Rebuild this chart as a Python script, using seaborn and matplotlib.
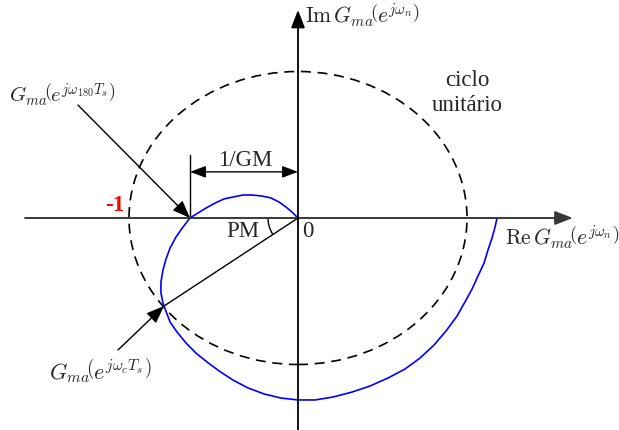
import numpy as np
import pandas as pd
import seaborn as sns
import matplotlib
matplotlib.use("Agg")
import matplotlib.pyplot as plt
from matplotlib.patches import Circle, Arc

# Nyquist locus of G_ma(e^{jw}) (real, imaginary parts), in units of the unit circle
re_part = [0.000, -0.036, -0.071, -0.112, -0.160, -0.213, -0.272, -0.325, -0.385, -0.438,
           -0.491, -0.544, -0.592, -0.639, -0.680, -0.722, -0.757, -0.781, -0.799, -0.811,
           -0.811, -0.799, -0.793, -0.757, -0.716, -0.663, -0.604, -0.538, -0.467, -0.385,
           -0.296, -0.201, -0.101, 0.000, 0.101, 0.207, 0.320, 0.426, 0.533, 0.633,
           0.722, 0.805, 0.876, 0.941, 0.988, 1.030, 1.065, 1.101, 1.124, 1.148,
           1.166, 1.178]
im_part = [0.000, 0.041, 0.075, 0.109, 0.137, 0.150, 0.157, 0.157, 0.143, 0.130,
           0.102, 0.068, 0.034, 0.000, -0.061, -0.130, -0.205, -0.280, -0.355, -0.437,
           -0.512, -0.580, -0.601, -0.710, -0.778, -0.853, -0.922, -0.983, -1.044, -1.106,
           -1.160, -1.201, -1.229, -1.242, -1.242, -1.222, -1.188, -1.147, -1.092, -1.031,
           -0.956, -0.867, -0.771, -0.669, -0.573, -0.485, -0.396, -0.307, -0.219, -0.137,
           -0.061, 0.000]

gm_cross = (-0.639, 0.0)      # crossing of the negative real axis (1/GM)
pm_cross = (-0.793, -0.601)   # crossing of the unit circle (phase margin)

sns.set_theme(style="white")
plt.rcParams["mathtext.fontset"] = "cm"
plt.rcParams["font.family"] = ["Liberation Serif", "DejaVu Serif"]

fig = plt.figure(figsize=(6.19, 4.30), dpi=100)
ax = fig.add_axes([0, 0, 1, 1])
ax.set_xlim(-298 / 169, 321 / 169)
ax.set_ylim(-212 / 146.5, 218 / 146.5)
ax.axis("off")

df = pd.DataFrame({"re": re_part, "im": im_part})
sns.lineplot(data=df, x="re", y="im", sort=False, estimator=None,
             color="#0000ff", lw=1.2, ax=ax)

# unit circle
ax.add_patch(Circle((0, 0), 1.0, fill=False, ls=(0, (6, 4)), lw=1.2, color="black"))

# coordinate axes with arrow heads
axis_col = "#383838"
ax.annotate("", xy=(1.626, 0), xytext=(-1.615, 0),
            arrowprops=dict(arrowstyle="-|>,head_length=0.9,head_width=0.35",
                            color=axis_col, lw=1.4, shrinkA=0, shrinkB=0))
ax.annotate("", xy=(0, 1.42), xytext=(0, -1.46),
            arrowprops=dict(arrowstyle="-|>,head_length=0.9,head_width=0.35",
                            color="black", lw=1.3, shrinkA=0, shrinkB=0))
ax.text(0.04, 1.385, r"$\mathrm{Im}\,G_{ma}\!\left(e^{j\omega_n}\right)$",
        fontsize=15.5, ha="left", va="center")
ax.text(1.225, -0.135, r"$\mathrm{Re}\,G_{ma}\!\left(e^{j\omega_n}\right)$",
        fontsize=15.5, ha="left", va="center")

# phase margin line and angle
ax.plot([0, pm_cross[0]], [0, pm_cross[1]], color="black", lw=1.0)
pm_deg = np.degrees(np.arctan2(-pm_cross[1], -pm_cross[0]))
ax.add_patch(Arc((0, 0), 2 * 30 / 169, 2 * 30 / 146.5, theta1=180,
                 theta2=180 + pm_deg, color="black", lw=1.0))
ax.text(-0.325, -0.095, "PM", fontsize=16.5, ha="center", va="center")
ax.text(0.06, -0.09, "0", fontsize=16.5, ha="center", va="center")
ax.text(-1.086, 0.082, "-1", fontsize=16.5, ha="center", va="center",
        color="red", weight="bold")

# 1/GM dimension
ax.plot([gm_cross[0], gm_cross[0]], [gm_cross[1], 0.43], color="black", lw=1.0)
ax.annotate("", xy=(0, 0.315), xytext=(gm_cross[0], 0.315),
            arrowprops=dict(arrowstyle="<|-|>,head_length=0.8,head_width=0.3",
                            color="black", lw=1.0, shrinkA=0, shrinkB=0))
ax.text(-0.314, 0.39, "1/GM", fontsize=16.5, ha="center", va="center")

# pointers to the characteristic points
ax.annotate("", xy=gm_cross, xytext=(-1.302, 0.771),
            arrowprops=dict(arrowstyle="-|>,head_length=0.9,head_width=0.35",
                            color="black", lw=1.0, shrinkA=0, shrinkB=0))
ax.text(-1.395, 0.835, r"$G_{ma}\!\left(e^{j\omega_{180}T_s}\right)$",
        fontsize=15, ha="center", va="center")
ax.annotate("", xy=pm_cross, xytext=(-1.065, -0.901),
            arrowprops=dict(arrowstyle="-|>,head_length=0.9,head_width=0.35",
                            color="black", lw=1.0, shrinkA=0, shrinkB=0))
ax.text(-1.17, -1.04, r"$G_{ma}\!\left(e^{j\omega_{c}T_s}\right)$",
        fontsize=16, ha="center", va="center")

# unit circle caption
ax.text(1.0, 0.94, "ciclo", fontsize=16.5, ha="center", va="center")
ax.text(1.0, 0.765, "unitário", fontsize=16.5, ha="center", va="center")

fig.savefig("out.png", dpi=100, facecolor="white")
